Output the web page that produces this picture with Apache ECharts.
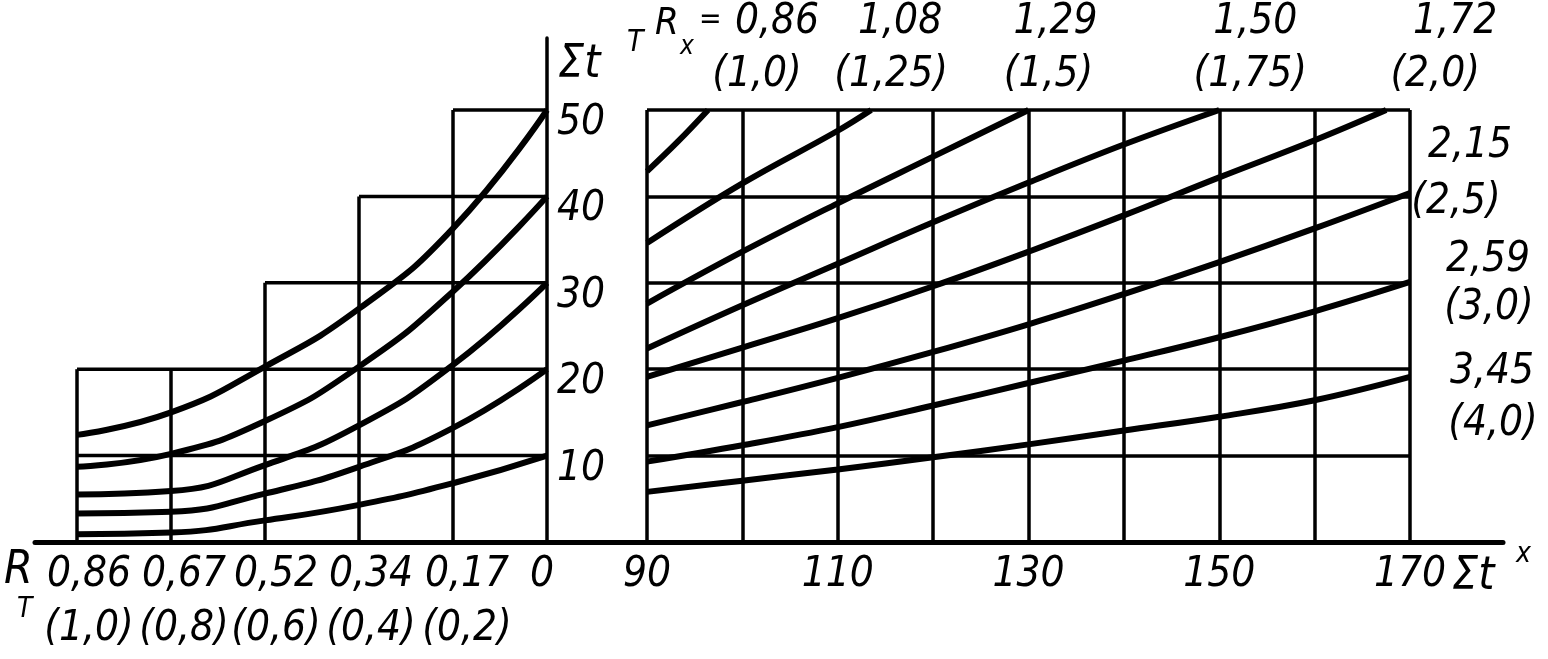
<!DOCTYPE html>
<html><head><meta charset="utf-8">
<script src="https://cdn.jsdelivr.net/npm/echarts@6/dist/echarts.min.js"></script>
<style>html,body{margin:0;padding:0;background:#fff}#c{width:1548px;height:659px}</style>
</head><body><div id="c"></div>
<script>
// ---------- data ----------
// left panel: R_T axis (positions in the bracketed scale 1.0 ... 0)
const rtPositions = [1.0, 0.8, 0.6, 0.4, 0.2, 0];
const rtLabels    = ['0,86', '0,67', '0,52', '0,34', '0,17', '0'];
const rtSubLabels = ['(1,0)', '(0,8)', '(0,6)', '(0,4)', '(0,2)', ''];
// stepped grid of the left panel
const leftVerticalTops = [20, 20, 30, 40, 50];     // at rtPositions[0..4]
const leftLevels       = [10, 20, 30, 40, 50];
const leftLevelStarts  = [1.0, 1.0, 0.6, 0.4, 0.2];
// left curves (Σt^T at rtPositions)
const leftCurveA = [12.4, 15.0, 20.3, 27.0, 36.3, 50];
const leftCurveB = [8.7, 10.2, 14.0, 20.3, 29.0, 40];
const leftCurveC = [5.5, 5.9, 8.9, 13.5, 20.5, 30];
const leftCurveD = [3.3, 3.5, 5.6, 8.7, 13.2, 20];
const leftCurveE = [0.9, 1.1, 2.5, 4.3, 6.8, 10];
const yTickLabels = [10, 20, 30, 40, 50];

// right panel: Σt^x axis
const rightXLabels = [90, 110, 130, 150, 170];
const rxTop    = ['0,86', '1,08', '1,29', '1,50', '1,72', '2,15', '2,59', '3,45'];
const rxBottom = ['(1,0)', '(1,25)', '(1,5)', '(1,75)', '(2,0)', '(2,5)', '(3,0)', '(4,0)'];
const rx086 = [[90,42.9],[93.2,46.3],[96.4,50]];
const rx108 = [[90,34.6],[100,41.5],[110,47.6],[113.5,50]];
const rx129 = [[90,27.6],[100,33.6],[110,39.2],[120,44.6],[130,50]];
const rx150 = [[90,22.4],[100,27.4],[110,32.2],[120,37.0],[130,41.6],[140,46.0],[150,50]];
const rx172 = [[90,19.1],[100,22.5],[110,25.9],[120,29.6],[130,33.6],[140,37.8],[150,42.2],[160,46.5],[167.5,50]];
const rx215 = [[90,13.5],[100,16.2],[110,19.0],[120,22.0],[130,25.2],[140,28.7],[150,32.4],[160,36.3],[170,40.4]];
const rx259 = [[90,9.3],[100,11.2],[110,13.3],[120,15.8],[130,18.4],[140,21.0],[150,23.7],[160,26.7],[170,30.1]];
const rx345 = [[90,5.8],[100,7.1],[110,8.4],[120,9.8],[130,11.3],[140,12.9],[150,14.5],[160,16.4],[170,19.1]];

// ---------- styles ----------
const FONT = "'Liberation Sans Narrow','DejaVu Sans Condensed','Liberation Sans',sans-serif";
const INK = '#000';
const FS = 42;
const topLabelOffsets    = [[69,-88],[29,-88],[27,-88],[36,-88],[69,-88],[60,-47],[78,-22],[82,-5]];
const bottomLabelOffsets = [[49,-35],[20,-35],[20,-35],[31,-35],[49,-35],[46,9],[79,26],[83,47]];
const rtLabelOffsets     = [[12,6],[13,6],[11,6],[12,6],[14,6],[-5,6]];

const rightCurves = [rx086, rx108, rx129, rx150, rx172, rx215, rx259, rx345];
const leftCurves = [leftCurveA, leftCurveB, leftCurveC, leftCurveD, leftCurveE];

function txt(size, extra) {
  return Object.assign({fontFamily: FONT, fontStyle: 'italic', fontSize: size, color: INK,
    textBorderWidth: 0, opacity: 1}, extra || {});
}

const series = [];
// left stepped grid
rtPositions.slice(0, 5).forEach((p, i) => {
  series.push({type:'line', xAxisIndex:0, yAxisIndex:0, silent:true, symbol:'none', clip:false,
    lineStyle:{color:INK, width:3.5}, data:[[p,0],[p,leftVerticalTops[i]]]});
});
leftLevels.forEach((lv, i) => {
  series.push({type:'line', xAxisIndex:0, yAxisIndex:0, silent:true, symbol:'none', clip:false,
    lineStyle:{color:INK, width:3.5}, data:[[leftLevelStarts[i],lv],[0,lv]]});
});
// left curves
leftCurves.forEach(c => {
  series.push({type:'line', xAxisIndex:0, yAxisIndex:0, symbol:'none', smooth:0.5, clip:false,
    lineStyle:{color:INK, width:6}, data: rtPositions.map((p,i)=>[p, c[i]])});
});
// right curves
rightCurves.forEach(c => {
  series.push({type:'line', xAxisIndex:1, yAxisIndex:1, symbol:'none', smooth:0.4, clip:false,
    lineStyle:{color:INK, width:6}, data: c});
});
// left R_T tick labels (two lines)
series.push({type:'scatter', xAxisIndex:0, yAxisIndex:0, symbolSize:0, silent:true, clip:false,
  itemStyle:{opacity:1},
  label: Object.assign({show:true, position:'inside', align:'center', verticalAlign:'top',
    formatter: p => rtSubLabels[p.dataIndex] ? '{a|' + rtLabels[p.dataIndex] + '}\n{a|' + rtSubLabels[p.dataIndex] + '}' : '{a|' + rtLabels[p.dataIndex] + '}',
    rich:{a: txt(FS, {lineHeight:54})}}, txt(FS)),
  data: rtPositions.map((p,i)=>({value:[p,0], label:{offset:rtLabelOffsets[i]}}))});
// right curve labels
series.push({type:'scatter', xAxisIndex:1, yAxisIndex:1, symbolSize:0, silent:true, clip:false,
  itemStyle:{opacity:1},
  label: Object.assign({show:true, position:'inside', align:'center', verticalAlign:'middle',
    formatter: p => rxTop[p.dataIndex]}, txt(FS)),
  data: rightCurves.map((c,i)=>({value:c[c.length-1], label:{offset:topLabelOffsets[i]}}))});
series.push({type:'scatter', xAxisIndex:1, yAxisIndex:1, symbolSize:0, silent:true, clip:false,
  itemStyle:{opacity:1},
  label: Object.assign({show:true, position:'inside', align:'center', verticalAlign:'middle',
    formatter: p => rxBottom[p.dataIndex]}, txt(FS)),
  data: rightCurves.map((c,i)=>({value:c[c.length-1], label:{offset:bottomLabelOffsets[i]}}))});

function gtext(text, x, y, size) {
  return {type:'text', x:x, y:y, silent:true,
    style:{text:text, fill:INK, font:'italic ' + size + 'px ' + FONT, align:'left', verticalAlign:'middle'}};
}

const option = {
  animation: false,
  backgroundColor: '#fff',
  textStyle: {fontFamily: FONT},
  grid: [
    {left:77, top:38, width:470, height:504},
    {left:647, top:110, width:763, height:432},
    {left:35, top:38, width:1468, height:504}
  ],
  xAxis: [
    {gridIndex:0, type:'value', min:0, max:1, interval:0.2, inverse:true,
     axisLine:{show:false}, axisTick:{show:false}, splitLine:{show:false}, axisLabel:{show:false}},
    {gridIndex:1, type:'value', min:90, max:170, interval:10,
     axisLine:{show:false}, axisTick:{show:false},
     splitLine:{show:true, showMinLine:true, showMaxLine:true, lineStyle:{color:INK, width:3.5}},
     axisLabel:{margin:6, showMinLabel:true, showMaxLabel:true, hideOverlap:false,
       formatter: v => rightXLabels.indexOf(Math.round(v)) >= 0 ? '{a|' + Math.round(v) + '}' : '',
       rich:{a: txt(FS, {lineHeight:54})}}},
    {gridIndex:2, type:'value', min:0, max:1,
     axisLine:{show:true, onZero:false, lineStyle:{color:INK, width:5}},
     axisTick:{show:false}, axisLabel:{show:false}, splitLine:{show:false}}
  ],
  yAxis: [
    {gridIndex:0, type:'value', min:0, max:58.33, interval:10, position:'right',
     axisLine:{show:true, lineStyle:{color:INK, width:3.5}}, axisTick:{show:false}, splitLine:{show:false},
     axisLabel:{margin:10, showMaxLabel:false, hideOverlap:false,
       formatter: v => yTickLabels.indexOf(Math.round(v)) >= 0 && Math.abs(v - Math.round(v)) < 1e-6 ? '{a|' + Math.round(v) + '}' : '',
       rich:{a: txt(FS, {padding:[26,0,0,0]})}}},
    {gridIndex:1, type:'value', min:0, max:50, interval:10,
     axisLine:{show:false}, axisTick:{show:false}, axisLabel:{show:false},
     splitLine:{show:true, showMinLine:true, showMaxLine:true, lineStyle:{color:INK, width:3.5}}},
    {gridIndex:2, type:'value', min:0, max:1, show:false}
  ],
  graphic: [
    gtext('Σt', 558, 65, 46),
    gtext('T', 627, 43, 30),
    gtext('R', 655, 24, 38),
    gtext('x', 680, 47, 26),
    gtext('=', 699, 20, 30),
    gtext('R', 4, 571, 46),
    gtext('T', 17, 610, 28),
    gtext('Σt', 1452, 577, 46),
    gtext('x', 1516, 555, 28)
  ],
  series: series
};

const chart = echarts.init(document.getElementById('c'), null, {renderer:'canvas'});
chart.setOption(option);
</script>
</body></html>
